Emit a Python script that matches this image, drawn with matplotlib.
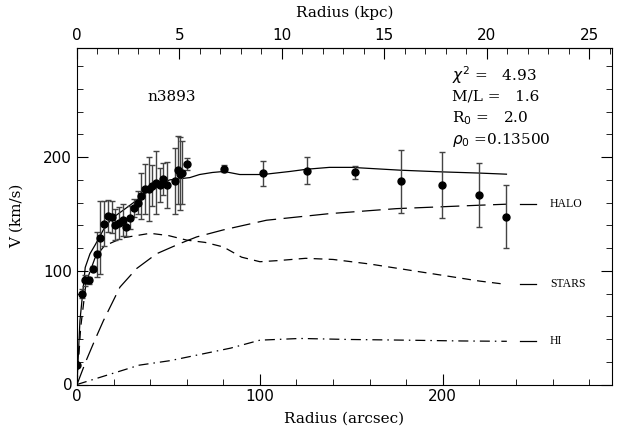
import numpy as np
import matplotlib
matplotlib.use("Agg")
import matplotlib.pyplot as plt
from matplotlib.ticker import MultipleLocator, FixedLocator

# ---- data (arcsec, km/s) ----
obs_r = [0.0, 2.9, 4.5, 6.7, 8.9, 10.7, 12.7, 14.8, 16.9, 18.9, 20.9, 22.9, 25.0, 27.0,
         29.1, 31.0, 33.2, 35.2, 37.2, 39.2, 41.2, 43.2, 45.2, 47.2, 49.2, 53.4, 55.4,
         56.1, 57.4, 60.3, 80.3, 101.6, 125.9, 152.0, 177.0, 199.6, 219.7, 234.8]
obs_v = [17, 80, 91.6, 91.6, 102, 114.5, 129, 141.5, 148, 147, 140.7, 142, 145, 138.6,
         146.6, 155, 160, 166, 171.8, 171.8, 174.7, 177.6, 175.3, 180.6, 175.3, 178.9, 189,
         185.6, 186.4, 193.8, 190, 186, 188, 186.5, 178.6, 175.3, 166.5, 147.7]
obs_err = [2, 4, 5, 3, 2, 20, 32, 20, 14, 14, 14, 14, 14, 8,
           10, 8, 10, 20, 22, 28, 18, 28, 15, 14, 20, 29, 30,
           32, 28, 5, 3, 11, 12, 6, 28, 29, 28, 28]

tot_r = [0, 1.6, 4.5, 7.1, 10, 14.4, 19, 25, 32.6, 41.7, 50.8, 61.7, 67, 74, 80.3, 89,
         101.6, 116.4, 125.9, 138, 150, 177, 200, 219.7, 234.8]
tot_v = [0, 56, 103, 115, 123, 136, 146, 153, 162, 175, 180, 182, 184.7, 186.5, 187.4, 184.7,
         184.7, 187.4, 189.4, 191, 191, 188.5, 187, 186, 185]

halo_r = [0, 5, 10, 14.4, 23.5, 32.6, 43.5, 56.3, 65.4, 80, 103.6, 138, 174.7, 220, 234.8]
halo_v = [0, 21, 40, 56, 85.7, 102, 115, 124, 129.8, 136, 144.5, 150.3, 154.7, 157.7, 158.6]

star_r = [0, 2, 5, 10, 15, 25, 40, 50, 60, 70, 80, 90, 100, 110, 125, 140, 160, 180,
          200, 220, 235]
star_v = [0, 50, 90, 112, 122, 129, 133, 131, 127, 125, 121, 112, 108, 109, 111, 110,
          106, 101, 96, 91, 88]

hi_r = [0, 34, 51, 84, 100, 122, 149, 180, 210, 235]
hi_v = [0, 17, 21, 32, 39, 40.5, 39.6, 39, 38.3, 38]

labels = ["HALO", "STARS", "HI"]
label_v = [158.6, 88, 38]

fit_text = [r"$\chi^2$ =   4.93", "M/L =   1.6", r"R$_0$ =   2.0", r"$\rho_0$ =0.13500"]
galaxy = "n3893"
kpc_per_arcsec = 1 / 11.2
kpc_ticks = [0, 5, 10, 15, 20, 25]

# ---- figure ----
fig = plt.figure(figsize=(6.19, 4.34), dpi=100)
ax = fig.add_axes([77 / 619, 1 - 384.5 / 434, (612 - 77) / 619, (384.5 - 48) / 434])

serif = ["DejaVu Serif"]

ax.plot(tot_r, tot_v, color="black", lw=0.9)
ax.plot(halo_r, halo_v, color="black", lw=0.9, dashes=(15, 6))
ax.plot(star_r, star_v, color="black", lw=0.9, dashes=(7, 5))
ax.plot(hi_r, hi_v, color="black", lw=0.9, dashes=(8, 4, 1.2, 4))

ax.errorbar(obs_r, obs_v, yerr=obs_err, fmt="o", color="black", ms=5,
            ecolor="#444444", elinewidth=1.0, capsize=2.5, capthick=1.0)

for lab, v in zip(labels, label_v):
    ax.plot([242, 251], [v, v], color="black", lw=0.9)
    ax.text(258.5, v, lab, fontsize=8.5, family=["Liberation Serif"], va="center", ha="left")

ax.text(52, 253, galaxy, fontsize=11, family=serif, ha="center", va="center")
for i, t in enumerate(fit_text):
    ax.text(205, 272 - 19 * i, t, fontsize=11, family=serif, ha="left", va="center")

ax.set_xlim(0, 292.5)
ax.set_ylim(0, 296)
ax.xaxis.set_major_locator(MultipleLocator(100))
ax.xaxis.set_minor_locator(MultipleLocator(20))
ax.yaxis.set_major_locator(MultipleLocator(100))
ax.yaxis.set_minor_locator(MultipleLocator(20))
ax.tick_params(which="both", direction="in", right=True, top=False, labelsize=11)
ax.tick_params(which="major", length=8)
ax.tick_params(which="minor", length=4)
ax.set_xlabel("Radius (arcsec)", fontsize=11, family=serif, labelpad=5)
ax.set_ylabel("V (km/s)", fontsize=11, family=serif, labelpad=14)

sec = ax.secondary_xaxis("top", functions=(lambda x: x * kpc_per_arcsec,
                                           lambda k: k / kpc_per_arcsec))
sec.xaxis.set_major_locator(FixedLocator(kpc_ticks))
sec.xaxis.set_minor_locator(FixedLocator([k for k in range(0, 27) if k % 5]))
sec.tick_params(which="both", direction="in", labelsize=11)
sec.tick_params(which="major", length=8)
sec.tick_params(which="minor", length=4)
sec.set_xlabel("Radius (kpc)", fontsize=11, family=serif, labelpad=8)

for lbl in ax.get_xticklabels() + ax.get_yticklabels() + sec.xaxis.get_ticklabels():
    lbl.set_family("DejaVu Sans")

fig.savefig("out.png", dpi=100)
